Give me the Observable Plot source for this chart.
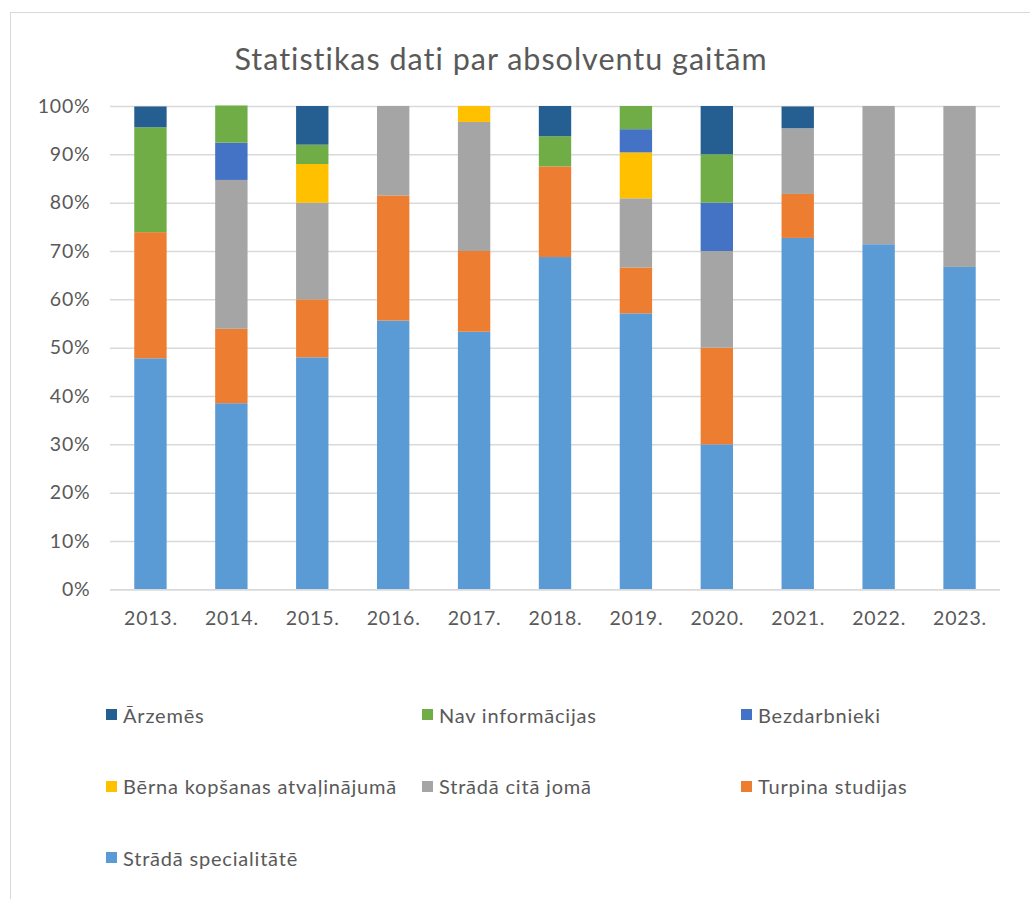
<!DOCTYPE html>
<html>
<head>
<meta charset="utf-8">
<script src="https://cdn.jsdelivr.net/npm/d3@7"></script>
<script src="https://cdn.jsdelivr.net/npm/@observablehq/plot@0.6"></script>
<style>
  html, body { margin: 0; padding: 0; background: #fff; }
  body { width: 1030px; height: 899px; overflow: hidden; position: relative; font-family: Lato, "Noto Sans", sans-serif; color: #595959; }
  #frame { position: absolute; left: 10px; top: 12px; width: 1030px; height: 900px; border-left: 1px solid #d9d9d9; border-top: 1px solid #d9d9d9; box-sizing: border-box; }
  #title { width: 980px; height: 80px; box-sizing: border-box; padding-top: 27px; text-align: center; font-size: 30.5px; letter-spacing: 1px; line-height: 36px; color: #595959; }
  #chart svg { display: block; }
  #chart svg text { letter-spacing: 0.8px; }
  #legend { display: grid; grid-template-columns: 316px 319px 300px; grid-auto-rows: 71.5px; padding-left: 95px; padding-top: 29px; }
  .item { display: flex; align-items: center; font-size: 20px; letter-spacing: 0.8px; color: #595959; white-space: nowrap; }
  .sw { width: 11px; height: 11px; margin-right: 6px; flex: none; }
</style>
</head>
<body>
<div id="frame">
  <div id="title">Statistikas dati par absolventu gaitām</div>
  <div id="chart"></div>
  <div id="legend"></div>
</div>
<script>
const years = ["2013.", "2014.", "2015.", "2016.", "2017.", "2018.", "2019.", "2020.", "2021.", "2022.", "2023."];
// Bottom-to-top stacking order
const seriesNames = ["Strādā specialitātē", "Turpina studijas", "Strādā citā jomā", "Bērna kopšanas atvaļinājumā", "Bezdarbnieki", "Nav informācijas", "Ārzemēs"];
const seriesColors = ["#5B9BD5", "#ED7D31", "#A5A5A5", "#FFC000", "#4472C4", "#70AD47", "#255E91"];
const stradaSpecialitate = [47.8, 38.5, 48.0, 55.6, 53.3, 68.75, 57.1, 30.0, 72.7, 71.4, 66.7];
const turpinaStudijas   = [26.1, 15.4, 12.0, 25.9, 16.7, 18.75, 9.5, 20.0, 9.1, 0, 0];
const stradaCitaJoma    = [0, 30.8, 20.0, 18.5, 26.7, 0, 14.3, 20.0, 13.6, 28.6, 33.3];
const bernaKopsanas     = [0, 0, 8.0, 0, 3.3, 0, 9.5, 0, 0, 0, 0];
const bezdarbnieki      = [0, 7.7, 0, 0, 0, 0, 4.8, 10.0, 0, 0, 0];
const navInformacijas   = [21.7, 7.7, 4.0, 0, 0, 6.25, 4.8, 10.0, 0, 0, 0];
const arzemes           = [4.3, 0, 8.0, 0, 0, 6.25, 0, 10.0, 4.5, 0, 0];
const yTicks = [0, 10, 20, 30, 40, 50, 60, 70, 80, 90, 100];
// Legend order (as in reference)
const legendOrder = ["Ārzemēs", "Nav informācijas", "Bezdarbnieki", "Bērna kopšanas atvaļinājumā", "Strādā citā jomā", "Turpina studijas", "Strādā specialitātē"];

const seriesValues = [stradaSpecialitate, turpinaStudijas, stradaCitaJoma, bernaKopsanas, bezdarbnieki, navInformacijas, arzemes];
const data = [];
seriesNames.forEach((s, si) => {
  years.forEach((y, yi) => data.push({year: y, series: s, value: seriesValues[si][yi]}));
});

const chart = Plot.plot({
  width: 1019,
  height: 557,
  marginTop: 13,
  marginLeft: 99,
  marginRight: 30,
  marginBottom: 60.7,
  style: {fontFamily: "Lato, 'Noto Sans', sans-serif", fontSize: "19.5px", color: "#595959", background: "transparent"},
  x: {domain: years, paddingInner: 0.6, paddingOuter: 0.3, round: false, label: null, tickSize: 0, tickPadding: 21},
  y: {domain: [0, 100], ticks: yTicks, tickFormat: d => d + "%", label: null, tickSize: 0, tickPadding: 20},
  color: {domain: seriesNames, range: seriesColors},
  marks: [
    Plot.ruleY(yTicks, {stroke: "#d9d9d9", strokeWidth: 1.5}),
    Plot.barY(data, {x: "year", y: "value", fill: "series", order: seriesNames}),
    Plot.ruleY([0], {stroke: "#d9d9d9", strokeWidth: 1.5})
  ]
});
document.getElementById("chart").appendChild(chart);

const legend = document.getElementById("legend");
legendOrder.forEach(name => {
  const item = document.createElement("div");
  item.className = "item";
  const sw = document.createElement("span");
  sw.className = "sw";
  sw.style.background = seriesColors[seriesNames.indexOf(name)];
  item.appendChild(sw);
  item.appendChild(document.createTextNode(name));
  legend.appendChild(item);
});
</script>
</body>
</html>
